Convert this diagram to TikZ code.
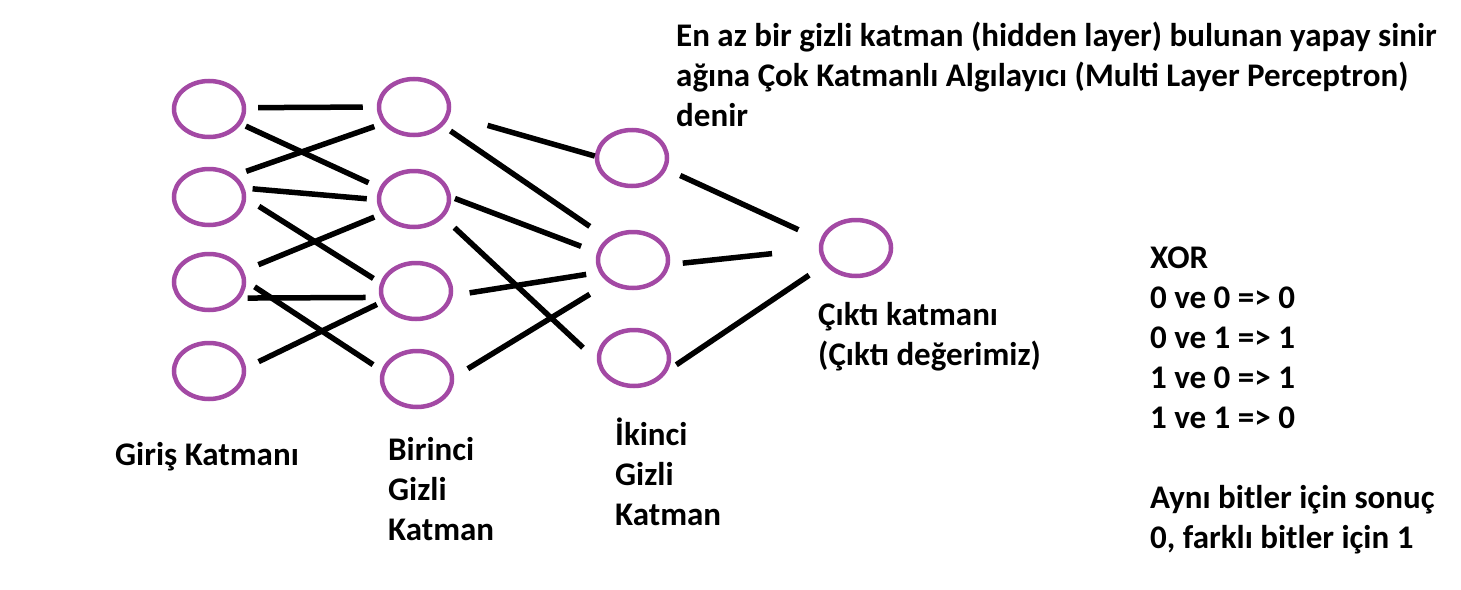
\documentclass[tikz,border=0pt]{standalone}
\usepackage{fontspec}
\setmainfont{Carlito}
\usepackage{tikz}
\usetikzlibrary{shapes.geometric,positioning}
\definecolor{paintpurple}{HTML}{A349A4}
\definecolor{ink}{HTML}{000000}

\begin{document}
\begin{tikzpicture}[x=1pt, y=-1pt,
  neuron/.style={ellipse, draw=paintpurple, line width=4.5pt, inner sep=0pt,
                 minimum width=70pt, minimum height=56pt},
  link/.style={ink, line width=5.5pt, shorten <=8pt, shorten >=8pt},
  lbl/.style={inner sep=0pt, anchor=base west, align=left, text=ink,
              font=\fontsize{33}{40}\selectfont\bfseries}
]
  \useasboundingbox (0,0) rectangle (1461,589);
  % katmanlar
  \node[neuron] (i1) at (209,109) {};
  \node[neuron] (i2) at (209,197) {};
  \node[neuron] (i3) at (209,282) {};
  \node[neuron] (i4) at (209,371) {};
  \node[neuron] (h1) at (414,107) {};
  \node[neuron] (h2) at (414,199) {};
  \node[neuron] (h3) at (416,291) {};
  \node[neuron] (h4) at (417,379) {};
  \node[neuron] (k1) at (632,158) {};
  \node[neuron] (k2) at (633,260) {};
  \node[neuron] (k3) at (634,358) {};
  \node[neuron] (o) at (856,248) {};
  % giris -> birinci gizli
  \draw[link, shorten <=12pt, shorten >=14pt] (i1.2) -- (h1.180);
  \draw[link, shorten <=5pt, shorten >=12pt] (i1.-25) -- (h2.162);
  \draw[link, shorten <=12pt, shorten >=9pt] (i2.40) -- (h1.-152);
  \draw[link, shorten <=8pt, shorten >=10pt] (i2.14) -- (h2.181);
  \draw[link, shorten <=15pt, shorten >=8pt] (i2.-2) -- (h3.167);
  \draw[link, shorten <=16pt, shorten >=8pt] (i3.18) -- (h2.-155);
  \draw[link, shorten <=7pt, shorten >=14pt] (i3.-27) -- (h3.-170);
  \draw[link, shorten <=10pt, shorten >=10pt] (i3.1) -- (h4.166);
  \draw[link, shorten <=14pt, shorten >=5pt] (i4.5) -- (h3.-162);
  % birinci -> ikinci gizli
  \draw[link, shorten <=39pt, shorten >=0pt] (h1.-12) -- (k1.177);
  \draw[link, shorten <=9pt, shorten >=21pt] (h1.-33) -- (k2.140);
  \draw[link, shorten <=4pt, shorten >=17pt] (h2.3) -- (k2.168);
  \draw[link, shorten <=15pt, shorten >=19pt] (h2.-32) -- (k3.-176);
  \draw[link, shorten <=17pt, shorten >=13pt] (h3.-7) -- (k2.-160);
  \draw[link, shorten <=16pt, shorten >=22pt] (h4.3) -- (k2.-137);
  % ikinci gizli -> cikti
  \draw[link, shorten <=15pt, shorten >=24pt] (k1.-18) -- (o.167);
  \draw[link, shorten <=13pt, shorten >=47pt] (k2.-7) -- (o.181);
  \draw[link, shorten <=10pt, shorten >=19pt] (k3.-20) -- (o.-152);
  % yazilar (base = son satir)
  \node[lbl] (title) at (676,126) {En az bir gizli katman (hidden layer) bulunan yapay sinir\\ağına Çok Katmanlı Algılayıcı (Multi Layer Perceptron)\\denir};
  \node[lbl] (giris) at (115,465) {Giriş Katmanı};
  \node[lbl] (birinci) at (388,540) {Birinci\\Gizli\\Katman};
  \node[lbl] (ikinci) at (615,525) {İkinci\\Gizli\\Katman};
  \node[lbl] (cikti) at (818,365) {Çıktı katmanı\\(Çıktı değerimiz)};
  \node[lbl] (xor) at (1150,548) {XOR\\0 ve 0 => 0\\0 ve 1 => 1\\1 ve 0 => 1\\1 ve 1 => 0\\[40pt]Aynı bitler için sonuç\\0, farklı bitler için 1};
\end{tikzpicture}
\end{document}
